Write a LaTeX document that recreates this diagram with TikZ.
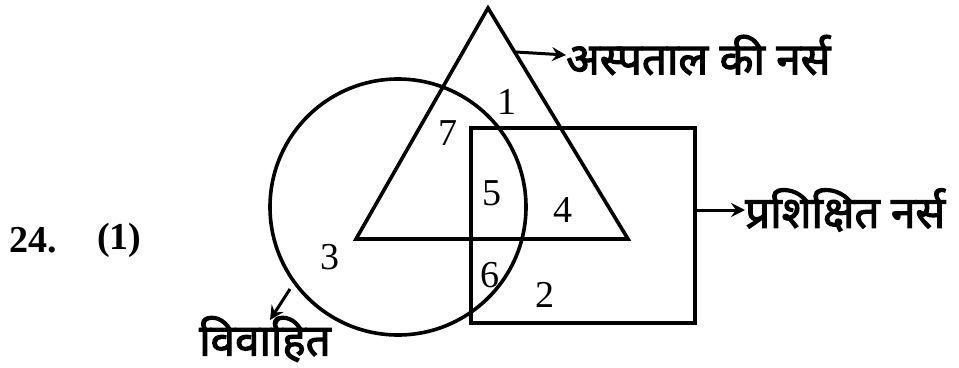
\documentclass[tikz,border=0pt]{standalone}
\usepackage{fontspec}
\setmainfont{Liberation Serif}
\newfontfamily\hindi[Script=Devanagari, FakeBold=2.5]{Noto Sans}
\usetikzlibrary{arrows.meta,positioning}

\begin{document}
\begin{tikzpicture}[x=1pt, y=-1pt,
  outline/.style={line width=3.6pt, line join=miter},
  ptr/.style={-{Stealth[length=14pt,width=14pt,inset=5pt]}, line width=3pt},
  region/.style={font=\fontsize{38}{38}\selectfont, inner sep=0pt},
  hlabel/.style={font=\fontsize{44}{44}\selectfont\hindi, inner sep=0pt},
  qno/.style={font=\fontsize{38}{38}\selectfont\bfseries, inner sep=0pt}
]
\useasboundingbox (0,0) rectangle (959,367);
\node[qno, anchor=west] (q) at (9,240) {24.};
\node[qno, anchor=west] (ans) at (97,240) {(1)};
\coordinate (apex) at (488,8);
\coordinate (bl) at (356,239);
\coordinate (br) at (628,239);
\draw[outline] (apex) -- (bl) -- (br) -- cycle;
\draw[outline] (398,207) circle[radius=128];
\draw[outline] (471,128) rectangle (695,323);
\coordinate (tri) at (516,52);
\coordinate (rect) at (695,210);
\coordinate (circ) at (290,289);
\node[hlabel, anchor=west] (hosp) at (566,55) {अस्पताल की नर्स};
\node[hlabel, anchor=west] (trained) at (745,210) {प्रशिक्षित नर्स};
\node[hlabel] (married) at (265,339) {विवाहित};
\draw[ptr] (tri) -- (hosp.west);
\draw[ptr] (rect) -- (trained.west);
\draw[ptr] (circ) -- (270,320);
\foreach \n/\x/\y in {1/507/102, 7/448/133, 5/492/193, 4/563/210, 3/330/257, 6/490/275, 2/545/295}
  \node[region] (r\n) at (\x,\y) {\n};
\end{tikzpicture}
\end{document}
